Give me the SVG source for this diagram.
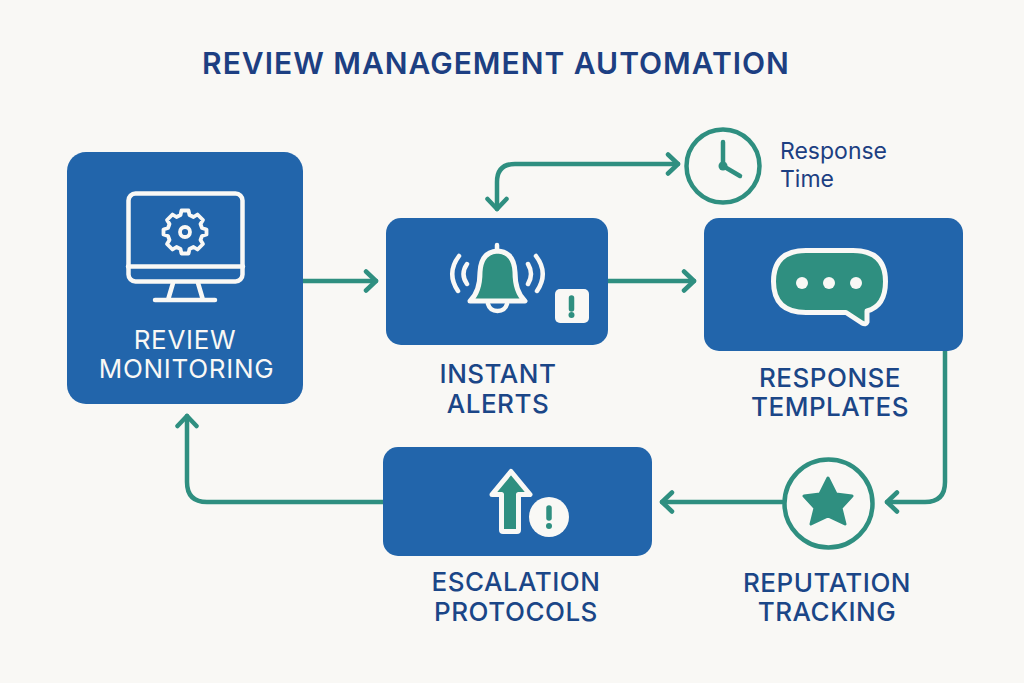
<svg xmlns="http://www.w3.org/2000/svg" width="1024" height="683" viewBox="0 0 1024 683">
<style>
.box{fill:#2265ab}
.c{fill:none;stroke:#2f8f80;stroke-width:4.500;stroke-linecap:round;stroke-linejoin:round}
.w{fill:none;stroke:#f9f8f5;stroke-width:4.500;stroke-linecap:round;stroke-linejoin:round}
.wt{fill:none;stroke:#f9f8f5;stroke-width:3.800;stroke-linecap:round;stroke-linejoin:round}
.wg{fill:#2f8f80;stroke:#f9f8f5;stroke-width:5;stroke-linejoin:round}
text{font-family:"Inter","Liberation Sans",sans-serif;text-anchor:middle}
.l{font-size:26px;font-weight:500;fill:#1b4687;letter-spacing:.5px}
.lw{font-size:26px;font-weight:400;fill:#f9f8f5;letter-spacing:.7px}
.s{font-size:23px;fill:#1d3f82;text-anchor:start}
.t{font-size:30px;font-weight:600;fill:#1d3f82;letter-spacing:1px}
</style>
<defs>
<marker id="a" viewBox="-13 -12 17 24" markerWidth="17" markerHeight="24" refX="0" refY="0" markerUnits="userSpaceOnUse" orient="auto-start-reverse"><path d="M-10-9.500L0 0L-10 9.500" fill="none" stroke="#2f8f80" stroke-width="4.500" stroke-linecap="round" stroke-linejoin="round"/></marker>
</defs>
<rect width="1024" height="683" fill="#f9f8f5"/>
<text id="title" class="t" x="496" y="74">REVIEW MANAGEMENT AUTOMATION</text>
<g id="connectors">
<path class="c" d="M303 281H376" marker-end="url(#a)"/>
<path class="c" d="M608 281H694" marker-end="url(#a)"/>
<path class="c" d="M497 209V182Q497 164 515 164H678" marker-start="url(#a)" marker-end="url(#a)"/>
<path class="c" d="M945 351V482Q945 502 925 502H887" marker-end="url(#a)"/>
<path class="c" d="M782 502H662" marker-end="url(#a)"/>
<path class="c" d="M383 502H207Q187 502 187 482V416" marker-end="url(#a)"/>
</g>
<g id="review-monitoring">
<rect class="box" x="67" y="152" width="236" height="252" rx="19"/>
<rect class="w" x="128.500" y="193.500" width="114" height="88" rx="7"/>
<path class="w" d="M128 266.500H243M173 283L168 300M198 283L203 300M155 300H215"/>
<path class="wt" d="M181.500 210.500L188.500 210.500L189.500 215L193.500 217L197.500 214.500L203 220L200.500 224L202 228L206.500 229.500L206.500 234.500L202 236L200.500 240L203 244L197.500 249.500L193.500 247L189.500 249L188.500 253.500L181.500 253.500L180.500 249L176.500 247L172.500 249.500L167 244L169.500 240L168 236L163.500 234.500L163.500 229.500L168 228L169.500 224L167 220L172.500 214.500L176.500 217L180.500 215Z"/>
<circle class="wt" cx="185" cy="232" r="5"/>
<text class="lw" x="185" y="349">REVIEW</text>
<text class="lw" x="186.500" y="378">MONITORING</text>
</g>
<g id="instant-alerts">
<rect class="box" x="386" y="218" width="222" height="127" rx="15"/>
<path class="wg" d="M470 301Q480 292 480 272Q481 252 497.500 251Q514 252 515 272Q515 292 525 301Z"/>
<path class="w" d="M497 245V249M488 304Q490 311 497.500 311Q505 311 507 304"/>
<path class="w" d="M459 256Q446 273 458 291M467 264Q460 274 467 284M536 256Q549 273 537 291M528 264Q534 274 528 284"/>
<rect x="555" y="289" width="34" height="34" rx="5" fill="#f9f8f5"/>
<path d="M571.500 298V309" stroke="#2f8f80" stroke-width="5.500" stroke-linecap="round" fill="none"/>
<circle cx="571.500" cy="315" r="3" fill="#2f8f80"/>
<text class="l" x="498" y="383">INSTANT</text>
<text class="l" x="498" y="413">ALERTS</text>
</g>
<g id="response-time">
<circle cx="723" cy="166" r="36.500" fill="none" stroke="#2f8f80" stroke-width="4.500"/>
<path d="M723 142V166L740 176" fill="none" stroke="#2f8f80" stroke-width="4.500" stroke-linecap="round" stroke-linejoin="round"/>
<circle cx="723" cy="166" r="4.500" fill="#2f8f80"/>
<text class="s" x="780" y="159">Response</text>
<text class="s" x="780" y="187">Time</text>
</g>
<g id="response-templates">
<rect class="box" x="704" y="218" width="259" height="133" rx="15"/>
<path class="wg" d="M806 250.500H853Q885.500 250.500 885.500 281.500Q885.500 306 867 311V322Q866 325 862 323L846 312.500H806Q773.500 312.500 773.500 281.500Q773.500 250.500 806 250.500Z"/>
<circle cx="802" cy="283" r="6" fill="#f9f8f5"/><circle cx="829" cy="283" r="6" fill="#f9f8f5"/><circle cx="856" cy="283" r="6" fill="#f9f8f5"/>
<text class="l" x="830" y="387">RESPONSE</text>
<text class="l" x="830" y="416">TEMPLATES</text>
</g>
<g id="reputation-tracking">
<circle cx="828.500" cy="503.500" r="44" fill="none" stroke="#2f8f80" stroke-width="4.500"/>
<path d="M828 478L836 494L852 496L841 508L845 524L828 516L811 524L815 508L804 496L820 494Z" fill="#2f8f80" stroke="#2f8f80" stroke-width="3" stroke-linejoin="round"/>
<text class="l" x="827" y="592">REPUTATION</text>
<text class="l" x="827" y="621">TRACKING</text>
</g>
<g id="escalation-protocols">
<rect class="box" x="383" y="447" width="269" height="109" rx="15"/>
<path class="wg" d="M511 471.500L530 494.500H518.500V530Q518.500 531.500 517 531.500H503Q501.500 531.500 501.500 530V494.500H492Z"/>
<circle cx="549" cy="517" r="20" fill="#f9f8f5"/>
<path d="M549 508V518" stroke="#2f8f80" stroke-width="5.500" stroke-linecap="round" fill="none"/>
<circle cx="549" cy="526" r="3" fill="#2f8f80"/>
<text class="l" x="516" y="591">ESCALATION</text>
<text class="l" x="516" y="621">PROTOCOLS</text>
</g>
</svg>
